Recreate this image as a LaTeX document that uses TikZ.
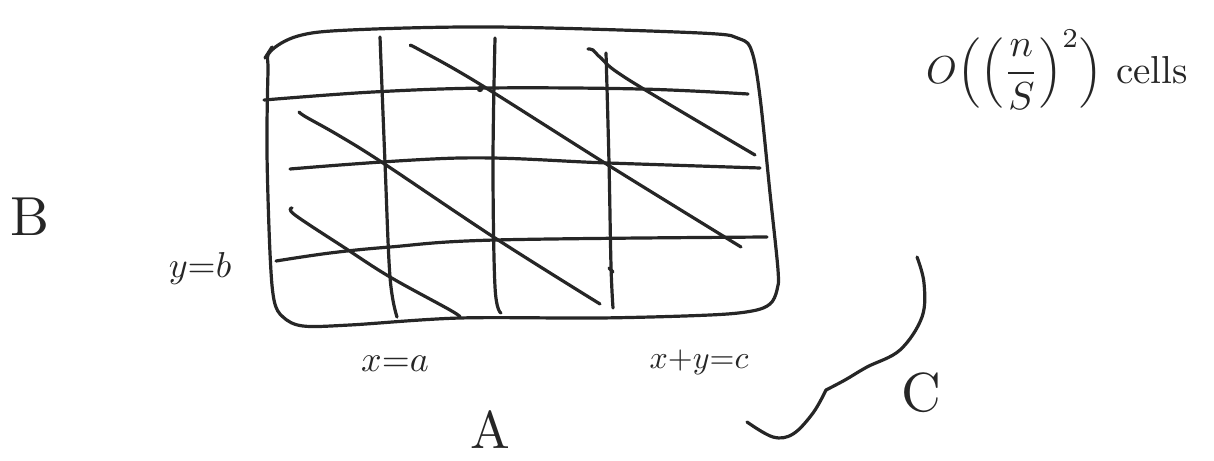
\documentclass[tikz,border=0pt]{standalone}
\usepackage{amsmath}
\begin{document}
\begin{tikzpicture}[x=1pt,y=-1pt,
  ink/.style={draw=black!85, line width=3.2pt, line cap=round, line join=round},
  lbl/.style={text=black!85, inner sep=0pt}]
\useasboundingbox (0,0) rectangle (1214,460);
% rounded frame
\draw[ink] plot[smooth cycle, tension=0.55] coordinates {
 (270,52) (298,36) (350,30) (495,27) (700,33) (740,39) (752,52) (760,97) (770,193)
 (778,270) (777,290) (770,304) (752,311) (710,315) (600,318) (460,318) (350,325)
 (303,326) (283,317) (274,300) (270,253) (267,153) (268,72)};
\draw[ink] (265,58) -- (272,47);
% horizontal lines
\draw[ink] plot[smooth, tension=0.6] coordinates {(264,100) (373,92) (488,88) (640,89) (748,94)};
\draw[ink] plot[smooth, tension=0.6] coordinates {(290,169) (460,158) (608,163) (760,168)};
\draw[ink] plot[smooth, tension=0.6] coordinates {(276,261) (330,253) (390,247) (495,240) (767,237)};
% vertical lines
\draw[ink] plot[smooth, tension=0.6] coordinates {(380,37) (385,163) (390,277) (397,317)};
\draw[ink] plot[smooth, tension=0.6] coordinates {(495,38) (493,163) (495,287) (501,313)};
\draw[ink] plot[smooth, tension=0.6] coordinates {(606,53) (609,163) (611,266) (613,308)};
\draw[ink] (609,268) -- (613,272);
% diagonal lines
\draw[ink] plot[smooth, tension=0.6] coordinates {(411,46) (418,49) (478,83) (608,165) (741,247)};
\draw[ink] plot[smooth, tension=0.6] coordinates {(588,49) (593,50) (601,58) (629,80) (755,155)};
\draw[ink] plot[smooth, tension=0.6] coordinates {(299,112) (306,117) (338,135) (383,163) (495,238) (600,304)};
\draw[ink] plot[smooth, tension=0.6] coordinates {(292,208) (295,215) (345,248) (390,277) (450,310) (460,317)};
\fill[black!85] (480,89) circle (3.2pt);
% curve near C
\draw[ink] plot[smooth, tension=0.6] coordinates {(917,257) (924,283) (922,317) (900,350) (867,367) (845,380) (826,390)};
\draw[ink] plot[smooth, tension=0.6] coordinates {(826,390) (813,413) (793,434) (773,437) (747,422)};
% labels
\node[lbl] (cost) at (1057,70) {\scalebox{3.9}{$O\Bigl(\Bigl(\dfrac{n}{S}\Bigr)^{2}\Bigr)$ cells}};
\node[lbl] (lblB) at (30,217) {\scalebox{5.5}{B}};
\node[lbl] (yb) at (200,268) {\scalebox{3.6}{$y{=}b$}};
\node[lbl] (xa) at (395,364) {\scalebox{3.6}{$x{=}a$}};
\node[lbl] (xyc) at (699,362) {\scalebox{3.2}{$x{+}y{=}c$}};
\node[lbl] (lblA) at (490,430) {\scalebox{5.3}{A}};
\node[lbl] (lblC) at (921,393) {\scalebox{5.5}{C}};
\end{tikzpicture}
\end{document}
